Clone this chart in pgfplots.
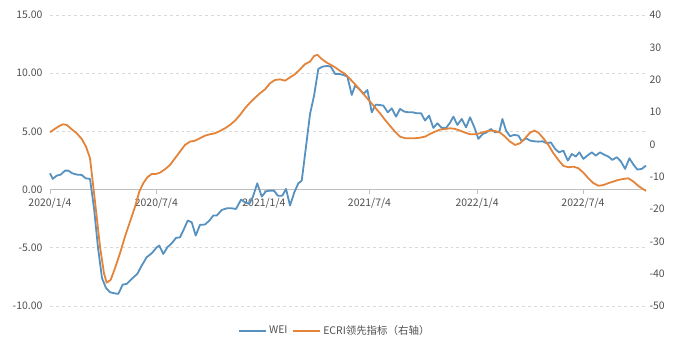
\documentclass[border=0pt]{standalone}
\usepackage{pgfplots}
\pgfplotsset{compat=1.18}
\usepackage{fontspec}
\setmainfont{Noto Sans CJK SC}
\definecolor{weiblue}{RGB}{86,145,192}
\definecolor{ecriorange}{RGB}{228,132,58}
\definecolor{txt}{RGB}{80,80,80}
\definecolor{grd}{RGB}{217,217,217}
\definecolor{axl}{RGB}{191,191,191}
\begin{document}
\begin{tikzpicture}
\useasboundingbox (0,0) rectangle (680bp,354bp);
\begin{axis}[
  at={(50bp,48bp)}, anchor=south west, scale only axis,
  width=596bp, height=291bp,
  xmin=0, xmax=145.7, ymin=-10, ymax=15,
  ytick={-10,-5,...,15},
  xtick={0,26,52.3,78.1,104.4,130.3},
  xticklabels={2020/1/4,2020/7/4,2021/1/4,2021/7/4,2022/1/4,2022/7/4},
  axis x line*=middle, axis y line*=left,
  hide obscured x ticks=false,
  y axis line style={draw=none},
  x axis line style={draw=axl, line width=0.8bp},
  tick align=outside,
  ytick style={draw=none},
  xtick style={draw=axl, line width=0.8bp},
  major tick length=4bp,
  ymajorgrids, grid style={dashed, draw=grd, line width=0.8bp},
  tick label style={font=\fontsize{10.5}{12}\selectfont, text=txt},
  yticklabel style={/pgf/number format/.cd, fixed, fixed zerofill, precision=2, assume math mode=true},
  xticklabel style={yshift=-1bp},
  clip=false,
]
\addplot[weiblue, line width=1.8bp, line join=round] coordinates {
(0,1.40) (0.66,0.92) (1.64,1.20) (2.62,1.29) (3.67,1.63) (4.47,1.63) (5.45,1.40) (6.53,1.29) (7.75,1.26) (8.73,0.97) (9.78,0.92)
(10.76,-1.6) (11.74,-5.0) (12.71,-7.6) (13.69,-8.45) (14.67,-8.82) (15.65,-8.9) (16.7,-8.96)
(17.78,-8.16) (18.75,-8.10) (19.98,-7.67) (21.34,-7.24) (22.42,-6.53) (23.64,-5.81) (24.87,-5.47) (26.09,-4.96) (26.72,-4.81)
(27.7,-5.53) (28.68,-4.96) (29.76,-4.61) (30.81,-4.15) (31.78,-4.10) (32.76,-3.38) (33.67,-2.66) (34.65,-2.81) (35.62,-3.95)
(36.67,-3.03) (37.9,-3.00) (38.95,-2.66) (39.93,-2.23) (40.76,-2.23) (41.98,-1.75) (43.2,-1.61) (44.43,-1.61) (45.48,-1.66)
(46.7,-0.86) (47.68,-1.09) (48.73,-1.23) (49.56,-0.66) (50.68,0.54) (51.76,-0.60) (52.81,-0.14) (53.79,-0.09) (54.77,-0.09)
(55.67,-0.52) (56.8,-0.52) (57.7,0.06) (58.68,-1.37) (59.73,-0.23) (60.71,0.54) (61.54,0.77) (62.76,4.20) (63.57,6.50)
(64.55,8.07) (65.6,10.37) (66.67,10.57) (67.8,10.62) (68.63,10.57) (69.68,9.94) (70.73,9.94) (71.71,9.85) (72.69,9.71)
(73.77,8.13) (74.57,8.93) (75.62,8.65) (76.6,8.22) (77.58,8.56) (78.66,6.64) (79.63,7.30) (80.51,7.27) (81.49,7.22)
(82.57,6.64) (83.55,6.98) (84.6,6.27) (85.57,6.93) (86.63,6.70) (87.6,6.64) (88.68,6.64) (89.66,6.56) (90.71,6.56)
(91.69,5.93) (92.67,6.36) (93.72,5.30) (94.69,5.70) (95.77,5.30) (96.82,5.30) (97.8,5.75) (98.61,6.27) (99.58,5.56)
(100.66,6.07) (101.71,5.35) (102.69,6.21) (103.74,5.35) (104.72,4.36) (105.79,4.78) (106.77,4.92) (107.75,5.21) (108.8,4.92)
(109.85,4.98) (110.59,6.07) (111.49,5.07) (112.47,4.58) (113.45,4.70) (114.5,4.64) (115.33,4.15) (116.38,4.41) (117.36,4.21)
(118.41,4.15) (119.39,4.12) (120.46,4.15) (121.44,3.98) (122.42,4.06) (123.47,3.50) (124.45,3.20) (125.5,3.35) (126.58,2.49)
(127.56,3.06) (128.53,2.84) (129.41,3.20) (130.39,2.64) (131.37,2.92) (132.44,3.20) (133.42,2.92) (134.47,3.20) (135.45,3.00)
(136.5,2.84) (137.48,2.55) (138.56,2.78) (139.54,2.43) (140.59,1.78) (141.64,2.69) (142.62,2.15) (143.6,1.72) (144.67,1.78) (145.7,2.06)
};
\end{axis}
\begin{axis}[
  at={(50bp,48bp)}, anchor=south west, scale only axis,
  width=596bp, height=291bp,
  xmin=0, xmax=145.7, ymin=-50, ymax=40,
  ytick={-50,-40,...,40},
  axis y line*=right, axis x line=none,
  y axis line style={draw=none},
  ytick style={draw=none},
  tick label style={font=\fontsize{10.5}{12}\selectfont, text=txt},
  yticklabel style={anchor=west, /pgf/number format/assume math mode=true},
  clip=false,
  legend columns=2,
  legend style={at={(0.478,-0.085)}, anchor=center, draw=none, fill=none,
    font=\fontsize{10.5}{12}\selectfont, text=txt,
    /tikz/every even column/.append style={column sep=3bp}},
  legend image code/.code={\draw[#1] (0bp,0bp) -- (27bp,0bp);},
]
\addlegendimage{weiblue, line width=1.8bp}
\addlegendentry{WEI}
\addplot[ecriorange, line width=1.8bp, line join=round] coordinates {
(0,3.74) (0.81,4.45) (2.03,5.48) (3.11,6.2) (4.08,6.0) (5.31,4.67) (6.53,3.43) (7.75,1.67) (8.8,-0.7) (9.78,-4.3)
(10.59,-13.1) (11.42,-22.4) (12.22,-31.6) (13.2,-39.9) (13.86,-42.8) (14.84,-41.9) (15.89,-38.3) (17.11,-33.7) (18.34,-28.5)
(19.56,-23.9) (20.78,-19.3) (21.83,-14.6) (22.81,-12.0) (23.79,-10.2) (24.87,-9.16) (25.92,-9.16) (26.89,-8.75) (28.12,-7.7)
(29.34,-6.37) (30.56,-4.3) (31.78,-2.26) (33.01,-0.19) (34.23,0.84) (35.45,1.14) (36.67,1.89) (37.9,2.69) (39.12,3.12)
(40.34,3.43) (41.56,4.14) (42.79,4.98) (44.01,6.0) (45.23,7.33) (46.45,9.09) (47.68,11.16) (48.9,12.9) (50.12,14.4)
(51.34,15.8) (52.57,17.0) (53.79,18.9) (55.01,19.9) (56.23,20.1) (57.46,19.7) (58.68,20.7) (59.9,21.7) (61.12,23.2)
(62.35,24.8) (63.57,25.6) (64.55,27.3) (65.35,27.7) (66.43,26.4) (67.48,25.4) (68.63,24.6) (69.85,23.7) (70.9,22.7)
(72.13,21.8) (73.35,20.2) (74.57,18.6) (75.79,16.8) (77.02,15.0) (78.24,13.2) (79.46,11.4) (80.68,9.6) (81.91,7.55)
(83.13,5.7) (84.35,3.9) (85.57,2.4) (86.8,1.89) (88.02,1.89) (89.24,1.89) (90.46,2.07) (91.69,2.38) (92.91,3.22)
(94.13,3.93) (95.35,4.55) (96.58,4.7) (97.8,4.98) (99.02,4.76) (100.24,4.24) (101.47,3.62) (102.69,3.12) (103.91,3.12)
(105.13,3.43) (106.36,3.93) (107.58,4.24) (108.8,4.14) (110.02,3.62) (111.25,2.38) (112.47,0.84) (113.69,-0.19) (114.91,0.34)
(116.14,1.89) (117.36,3.62) (118.41,4.24) (119.39,3.62) (120.61,1.89) (121.83,-0.19) (123.06,-2.75) (124.28,-4.83) (125.5,-6.68)
(126.72,-7.08) (127.95,-6.9) (129.17,-7.39) (130.39,-8.75) (131.61,-10.5) (132.84,-12.0) (134.06,-12.8) (135.28,-12.6) (136.5,-12.0)
(137.73,-11.5) (138.95,-11.0) (140.17,-10.7) (141.39,-10.5) (142.62,-11.5) (143.85,-12.9) (145.06,-13.9) (145.7,-14.4)
};
\addlegendentry{ECRI领先指标（右轴）}
\end{axis}
\end{tikzpicture}
\end{document}
